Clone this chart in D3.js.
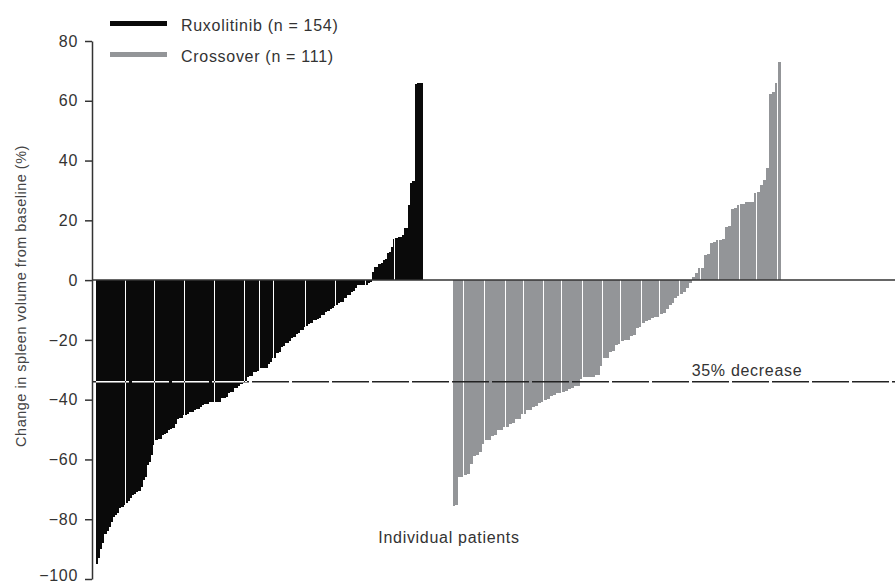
<!DOCTYPE html>
<html>
<head>
<meta charset="utf-8">
<script src="https://cdn.jsdelivr.net/npm/d3@7"></script>
<style>
  body { margin: 0; background: #fff; }
  text { font-family: "Liberation Sans", Arial, sans-serif; }
</style>
</head>
<body>
<div id="chart"></div>
<script>
// Ruxolitinib arm, sorted (% change in spleen volume)
const ruxolitinib = [
  -95, -93, -90, -88, -85, -84, -82.6, -81, -79.2, -78.5,
  -78, -76.4, -76, -75.3, -74.5, -74, -73, -72, -71.4, -71,
  -70.5, -69.2, -67, -66, -62, -61, -58.6, -55.2, -53.6, -53.2,
  -53, -51.9, -51.4, -51, -50.2, -49.8, -49.5, -48, -46.6, -46.3,
  -46, -45.2, -45, -44.8, -44, -44, -43.5, -43, -43, -42.5,
  -41.8, -41.6, -41.5, -40.7, -40.7, -40.7, -40.7, -40.7, -40.7, -39.6,
  -39.5, -39, -37.9, -37.6, -37.5, -36.2, -36, -35.5, -34.6, -34.3,
  -34, -32.4, -32.2, -32, -30.7, -30.6, -30.5, -29.5, -29.5, -29.5,
  -29.5, -27.9, -27.5, -26.2, -26, -24.5, -24, -22.3, -22, -21.2,
  -21, -20.5, -19.5, -19, -18, -17.8, -16.8, -16.6, -15.7, -15.5,
  -14.6, -14.4, -13.5, -13.3, -12.9, -12.7, -11.8, -11.6, -10.7, -10.5,
  -9.6, -9.4, -8.5, -8.3, -7.8, -7.4, -7.2, -6.1, -5.1, -4.9,
  -4, -3.8, -2.8, -1.8, -1.7, -1.7, -1.6, -1.5, -1, -0.5,
  2.8, 4.5, 4.5, 5.4, 5.6, 6.7, 7, 9.1, 9.5, 11.2,
  13.6, 14, 14.5, 14.5, 15, 17.3, 17.5, 25, 32.6, 33,
  65.5, 66, 66, 66
];

// Crossover arm, sorted
const crossover = [
  -75.5, -75.3, -66, -65.8, -65.3, -65, -61.4, -58.8, -58.6, -57.5,
  -54.7, -53.6, -53.4, -52, -51.9, -50.2, -50, -49.1, -49, -48,
  -47.8, -46.6, -46.4, -44.9, -44.8, -43.5, -43.3, -42.4, -42.2, -41,
  -40.8, -40, -39.8, -38.8, -38.6, -37.9, -37.8, -37.4, -37.2, -36.3,
  -36.1, -35.5, -35.3, -33, -32.4, -32.4, -32.4, -32.4, -31.8, -31.6,
  -28.8, -26.2, -26, -24, -23.8, -21.8, -21.5, -20.5, -20, -20,
  -18.6, -18.2, -16, -15.6, -14.5, -13.6, -13.2, -12.7, -12.5, -12.3,
  -11.4, -11, -9.5, -8.2, -7.6, -6.1, -5.2, -4.8, -3.9, -2.8,
  -1, 1, 2.4, 3.9, 4.2, 8.4, 8.8, 12.5, 12.8, 13.4,
  13.4, 13.6, 17.9, 18.2, 23.7, 24.2, 25.1, 25.4, 25.6, 26,
  26, 26.2, 29.2, 29.5, 31.8, 33.5, 37.4, 62.2, 63, 65.8,
  72.9
];

const yTicks = [80, 60, 40, 20, 0, -20, -40, -60, -80, -100];
const threshold = -34;
const legendLabels = ["Ruxolitinib (n = 154)", "Crossover (n = 111)"];
const colors = ["#0a0a0a", "#939598"];

const W = 895, H = 585;
const svg = d3.select("#chart").append("svg")
    .attr("width", W)
    .attr("height", H);

const y = d3.scaleLinear().domain([-100, 80]).range([579, 41]);

const xRux = d3.scaleBand()
    .domain(d3.range(ruxolitinib.length))
    .range([96, 423]);
const xCross = d3.scaleBand()
    .domain(d3.range(crossover.length))
    .range([452.5, 781]);

// bars snapped to whole pixels; every `period` bars a 1px white seam is
// left open, like the raster artefacts in the printed figure
function drawBars(g, data, x, color, period, phase) {
  const left = i => Math.round(x(i));
  const seam = i => Math.floor((i + 1 + phase) / period) > Math.floor((i + phase) / period);
  g.selectAll("rect")
    .data(data)
    .enter().append("rect")
      .attr("x", (d, i) => left(i))
      .attr("width", (d, i) => Math.round(x(i) + x.step()) - left(i) - (seam(i) ? 1 : 0))
      .attr("y", d => d > 0 ? y(d) : y(0))
      .attr("height", d => Math.abs(y(d) - y(0)))
      .attr("fill", color)
      .attr("shape-rendering", "crispEdges");
}

drawBars(svg.append("g"), ruxolitinib, xRux, colors[0], 14.1, 0.6);
drawBars(svg.append("g"), crossover, xCross, colors[1], 6.6, 2.6);

// clip path = black bars, for the white part of the dashed line
const clip = svg.append("clipPath").attr("id", "ruxClip");
drawBars(clip, ruxolitinib, xRux, "#000", 14.1, 0.6);

// zero line
svg.append("line")
    .attr("x1", 92).attr("x2", W)
    .attr("y1", y(0)).attr("y2", y(0))
    .attr("stroke", "#333")
    .attr("stroke-width", 1.5);

// 35% decrease line
svg.append("line")
    .attr("x1", 92).attr("x2", W)
    .attr("y1", y(threshold)).attr("y2", y(threshold))
    .attr("stroke", "#222")
    .attr("stroke-width", 1.5)
    .attr("stroke-dasharray", "37,3");
svg.append("line")
    .attr("clip-path", "url(#ruxClip)")
    .attr("x1", 92).attr("x2", W)
    .attr("y1", y(threshold)).attr("y2", y(threshold))
    .attr("stroke", "#fff")
    .attr("stroke-width", 1.5)
    .attr("stroke-dasharray", "37,3");

const fs = 16, ls = 0.7;

svg.append("text")
    .attr("x", 747).attr("y", y(threshold) - 6)
    .attr("text-anchor", "middle")
    .attr("font-size", fs)
    .attr("letter-spacing", ls)
    .attr("fill", "#333")
    .text("35% decrease");

// y axis
const yAxis = svg.append("g")
    .attr("transform", "translate(92,0)")
    .call(d3.axisLeft(y).tickValues(yTicks).tickSize(7).tickSizeOuter(0));
yAxis.select(".domain").attr("stroke", "#333").attr("stroke-width", 1.5);
yAxis.selectAll(".tick line").attr("stroke", "#333").attr("stroke-width", 1.5);
yAxis.selectAll(".tick text")
    .attr("font-size", fs)
    .attr("letter-spacing", ls)
    .attr("font-family", "Liberation Sans, Arial, sans-serif")
    .attr("fill", "#333")
    .attr("x", -14)
    .attr("dy", d => d === -100 ? "0.12em" : "0.32em");

svg.append("text")
    .attr("transform", "translate(26,296) rotate(-90)")
    .attr("text-anchor", "middle")
    .attr("font-size", 14.5)
    .attr("letter-spacing", 0.5)
    .attr("fill", "#444")
    .text("Change in spleen volume from baseline (%)");

svg.append("text")
    .attr("x", 449).attr("y", 543)
    .attr("text-anchor", "middle")
    .attr("font-size", fs)
    .attr("letter-spacing", ls)
    .attr("fill", "#333")
    .text("Individual patients");

// legend
const legend = svg.append("g");
legendLabels.forEach((lab, i) => {
  const ly = 23.5 + i * 31;
  legend.append("line")
      .attr("x1", 110).attr("x2", 167)
      .attr("y1", ly).attr("y2", ly)
      .attr("stroke", colors[i])
      .attr("stroke-width", 5);
  legend.append("text")
      .attr("x", 181).attr("y", ly + 7)
      .attr("font-size", fs)
      .attr("letter-spacing", ls)
      .attr("fill", "#333")
      .text(lab);
});
</script>
</body>
</html>
